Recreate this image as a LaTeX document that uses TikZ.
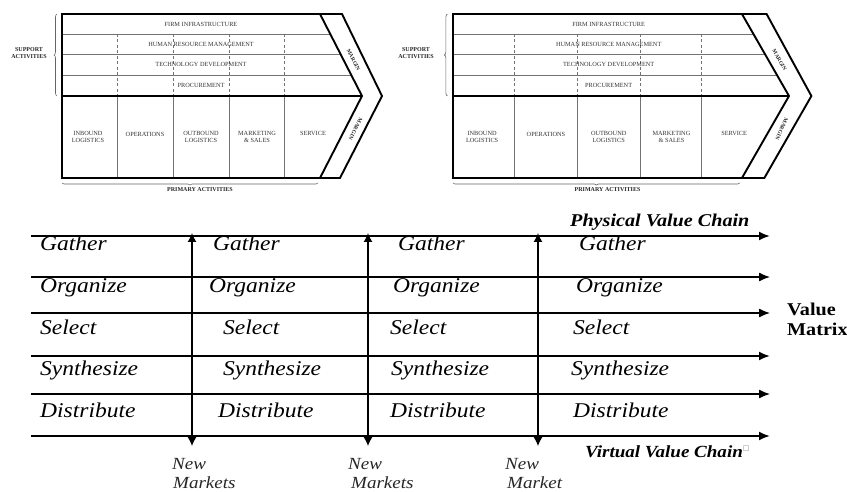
\documentclass[tikz,border=0pt]{standalone}
\usepackage{fontspec}
\setmainfont{Liberation Serif}
\newfontfamily\matfont[FakeStretch=1.12]{Liberation Serif}
\newfontfamily\symfont{DejaVu Sans}
\usetikzlibrary{decorations.pathreplacing,arrows.meta}

\tikzset{
  vcborder/.style={line width=1.9pt, line join=miter},
  vcsep/.style={draw=black!55, line width=0.8pt},
  vcdash/.style={draw=black!55, line width=0.7pt, dash pattern=on 3pt off 2.5pt},
  vcbrace/.style={draw=black!60, line width=0.6pt, decorate},
  vctext/.style={font=\fontsize{6.3}{7}\selectfont, text=black!80, inner sep=0pt, align=center},
  vclabel/.style={font=\fontsize{6}{6.8}\selectfont\bfseries, text=black!85, inner sep=0pt, align=center},
  vcmargin/.style={font=\fontsize{5.5}{6}\selectfont\bfseries, text=black!85, inner sep=0pt},
  hline/.style={-{Latex[length=11pt,width=9pt]}},
  vline/.style={line width=1.2pt, {Latex[length=9pt,width=9pt]}-{Latex[length=9pt,width=9pt]}},
  mword/.style={font=\matfont\itshape\fontsize{21}{24}\selectfont, anchor=base west, inner sep=0pt},
  mlabel/.style={font=\matfont\bfseries\itshape\fontsize{18}{20}\selectfont, anchor=base west, inner sep=0pt},
  mlabelup/.style={font=\matfont\bfseries\fontsize{18}{20}\selectfont, anchor=base west, inner sep=0pt, align=left},
  market/.style={font=\matfont\itshape\fontsize{17}{19.5}\selectfont, anchor=base west, inner sep=0pt, align=left, text=black!85},
}

% #1 prefix, #2 x offset, #3 xscale, #4 margin text angle
\newcommand\vchain[4]{%
\begin{scope}[shift={(#2,0)}, xscale=#3, name prefix=#1-]
  \draw[vcsep] (0,34) -- (268.2,34);
  \draw[vcsep] (0,54) -- (278.5,54);
  \draw[vcsep] (0,75) -- (289.2,75);
  \foreach \xx in {55,111,167,222} {
    \draw[vcdash] (\xx,34) -- (\xx,96);
    \draw[vcsep] (\xx,96) -- (\xx,178);
  }
  \draw[vcborder] (258,14) -- (300,96) -- (258,178);
  \draw[vcborder] (0,96) -- (300,96);
  \draw[vcborder] (0,14) -- (280,14) -- (320,96) -- (278,178) -- (0,178) -- cycle;
  \node[vctext] (fi) at (139,24) {FIRM INFRASTRUCTURE};
  \node[vctext] (hrm) at (139,44) {HUMAN RESOURCE MANAGEMENT};
  \node[vctext] (td) at (139,64.5) {TECHNOLOGY DEVELOPMENT};
  \node[vctext] (pr) at (139,85) {PROCUREMENT};
  \node[vctext] (ib) at (26,137) {INBOUND\\LOGISTICS};
  \node[vctext] (op) at (83,134) {OPERATIONS};
  \node[vctext] (ob) at (139,137) {OUTBOUND\\LOGISTICS};
  \node[vctext] (ms) at (195,137) {MARKETING\\\& SALES};
  \node[vctext] (sv) at (251,133) {SERVICE};
  \node[vcmargin, rotate=#4] (m1) at (291.5,60) {MARGIN};
  \node[vcmargin, rotate=#4-54.2] (m2) at (293.5,129) {MARGIN};
  \node[vclabel] (sa) at (-33,53) {SUPPORT\\ACTIVITIES};
  \node[vclabel] (pa) at (138,190) {PRIMARY ACTIVITIES};
  \coordinate (bt) at (-5,14);
  \coordinate (bb) at (-5,96);
  \coordinate (pl) at (0,183);
  \coordinate (pr2) at (256,183);
  \draw[vcbrace, decoration={brace, amplitude=3pt}] (bb) -- (bt);
  \draw[vcbrace, decoration={brace, amplitude=2pt}] (pr2) -- (pl);
\end{scope}}

\begin{document}
\begin{tikzpicture}[x=1pt, y=-1pt]
\useasboundingbox (0,0) rectangle (847,492);

\vchain{L}{62}{1}{-62.9}
\vchain{R}{453}{1.12}{-60.2}

% value matrix horizontal arrows
\foreach \n/\yy/\w in {1/236/1.9,2/277/1.3,3/313/1.3,4/356/1.9,5/394/1.3,6/436/1.9} {
  \coordinate (hs\n) at (31,\yy);
  \coordinate (he\n) at (770,\yy);
  \draw[hline, line width=\w pt] (hs\n) -- (he\n);
}
% vertical double arrows
\foreach \n/\xx in {1/192,2/368,3/538} {
  \coordinate (vt\n) at (\xx,233);
  \coordinate (vb\n) at (\xx,446);
  \draw[vline] (vb\n) -- (vt\n);
}

% words
\foreach \c/\xa/\xb/\xc/\xd/\yy/\t in {
  g/40/213/398/579/250.5/Gather,
  o/40/209/393/576/292.3/Organize,
  s/40/223/390/573/334/Select,
  y/40/223/391/571/375.7/Synthesize,
  d/40/218/390/573/417/Distribute} {
  \node[mword] (\c1) at (\xa,\yy) {\t};
  \node[mword] (\c2) at (\xb,\yy) {\t};
  \node[mword] (\c3) at (\xc,\yy) {\t};
  \node[mword] (\c4) at (\xd,\yy) {\t};
}

\node[mlabel] (pvc) at (570,226) {Physical Value Chain};
\node[mlabel, font=\matfont\bfseries\itshape\fontsize{17}{20}\selectfont] (vvc) at (585,457)
  {Virtual Value Chain\raisebox{7pt}{\symfont\fontsize{7}{7}\selectfont\color{black!50}□}};
\node[mlabelup] (vm) at (787,335) {Value\\Matrix};

\node[market] (nm1) at (172,488.5) {New\\\hspace*{1pt}Markets};
\node[market] (nm2) at (348,488.5) {New\\\hspace*{3pt}Markets};
\node[market] (nm3) at (505,488.5) {New\\\hspace*{2pt}Market};
\end{tikzpicture}
\end{document}
